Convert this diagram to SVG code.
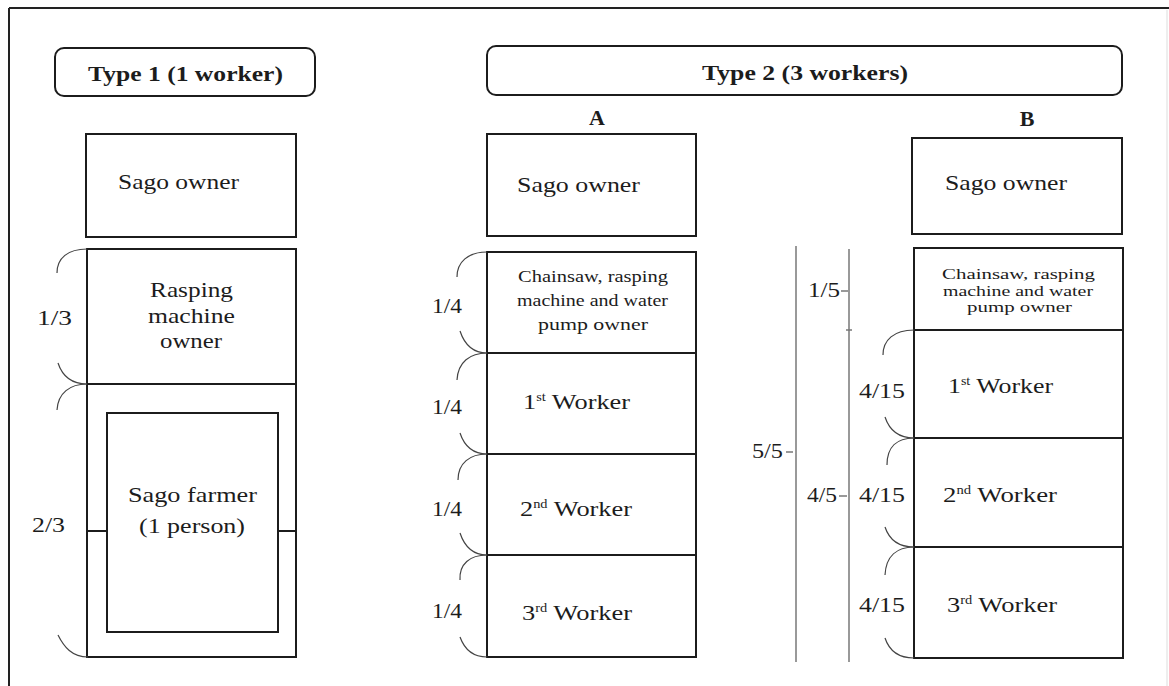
<svg xmlns="http://www.w3.org/2000/svg" width="1169" height="686" viewBox="0 0 1169 686">
<style>
.bx{fill:none;stroke:#1c1c1c;stroke-width:2}
.hd{fill:#fff;stroke:#1c1c1c;stroke-width:2}
.t{font-family:"Liberation Serif","Times New Roman",serif;font-size:22px;fill:#1c1c1c}
.b{font-weight:bold}
.s{font-size:17px}
.xs{font-size:15px}
.c{fill:none;stroke:#444;stroke-width:1.2}
.v{fill:none;stroke:#777;stroke-width:1.5}
</style>
<rect width="1169" height="686" fill="#fff"/>
<g id="frame">
<line x1="9" y1="8" x2="1169" y2="8" stroke="#222" stroke-width="2"/>
<line x1="9" y1="8" x2="9" y2="686" stroke="#222" stroke-width="2"/>
<line x1="1167" y1="10" x2="1167" y2="686" stroke="#ddd" stroke-width="1"/>
</g>
<g id="type1-header"><rect class="hd" x="55" y="48" width="260" height="48" rx="9"/><text class="t b" x="88" y="81" font-size="20" textLength="195" lengthAdjust="spacingAndGlyphs">Type 1 (1 worker)</text></g>
<g id="type2-header"><rect class="hd" x="487" y="46" width="635" height="49" rx="9"/><text class="t b" x="702" y="80" font-size="20" textLength="206" lengthAdjust="spacingAndGlyphs">Type 2 (3 workers)</text></g>
<g id="label-A"><text class="t b" x="597" y="125" text-anchor="middle" font-size="19">A</text></g>
<g id="label-B"><text class="t b" x="1027" y="126" text-anchor="middle" font-size="19">B</text></g>

<g id="t1-sago-owner"><rect class="bx" x="86" y="134" width="210" height="103"/><text class="t" x="118" y="189" textLength="121" lengthAdjust="spacingAndGlyphs">Sago owner</text></g>
<g id="t1-rasping"><rect class="bx" x="87" y="249" width="209" height="135"/>
<text class="t" x="150" y="297" textLength="83" lengthAdjust="spacingAndGlyphs">Rasping</text>
<text class="t" x="148" y="323" textLength="87" lengthAdjust="spacingAndGlyphs">machine</text>
<text class="t" x="160" y="348" textLength="62" lengthAdjust="spacingAndGlyphs">owner</text></g>
<g id="t1-farmer-outer"><rect class="bx" x="87" y="384" width="209" height="273"/>
<line class="bx" x1="87" y1="531" x2="107" y2="531"/><line class="bx" x1="278" y1="531" x2="296" y2="531"/></g>
<g id="t1-farmer"><rect class="bx" x="107" y="413" width="171" height="219"/>
<text class="t" x="128" y="502" textLength="129" lengthAdjust="spacingAndGlyphs">Sago farmer</text>
<text class="t" x="139" y="533" textLength="106" lengthAdjust="spacingAndGlyphs">(1 person)</text></g>

<g id="a-sago-owner"><rect class="bx" x="487" y="134" width="209" height="102"/><text class="t" x="517" y="192" textLength="123" lengthAdjust="spacingAndGlyphs">Sago owner</text></g>
<g id="a-chainsaw"><rect class="bx" x="487" y="252" width="209" height="101"/>
<text class="t s" x="518" y="282" textLength="150" lengthAdjust="spacingAndGlyphs">Chainsaw, rasping</text>
<text class="t s" x="517" y="306" textLength="151" lengthAdjust="spacingAndGlyphs">machine and water</text>
<text class="t s" x="538" y="330" textLength="110" lengthAdjust="spacingAndGlyphs">pump owner</text></g>
<g id="a-w1"><rect class="bx" x="487" y="353" width="209" height="101"/><text class="t" x="523" y="409" textLength="107" lengthAdjust="spacingAndGlyphs">1<tspan font-size="12" dy="-8">st</tspan><tspan dy="8"> Worker</tspan></text></g>
<g id="a-w2"><rect class="bx" x="487" y="454" width="209" height="101"/><text class="t" x="520" y="516" textLength="112" lengthAdjust="spacingAndGlyphs">2<tspan font-size="12" dy="-8">nd</tspan><tspan dy="8"> Worker</tspan></text></g>
<g id="a-w3"><rect class="bx" x="487" y="555" width="209" height="102"/><text class="t" x="522" y="620" textLength="110" lengthAdjust="spacingAndGlyphs">3<tspan font-size="12" dy="-8">rd</tspan><tspan dy="8"> Worker</tspan></text></g>

<g id="b-sago-owner"><rect class="bx" x="912" y="138" width="210" height="96"/><text class="t" x="945" y="190" textLength="122" lengthAdjust="spacingAndGlyphs">Sago owner</text></g>
<g id="b-chainsaw"><rect class="bx" x="914" y="248" width="209" height="82"/>
<text class="t xs" x="942" y="279" textLength="153" lengthAdjust="spacingAndGlyphs">Chainsaw,  rasping</text>
<text class="t xs" x="943" y="296" textLength="150" lengthAdjust="spacingAndGlyphs">machine and water</text>
<text class="t xs" x="967" y="312" textLength="105" lengthAdjust="spacingAndGlyphs">pump owner</text></g>
<g id="b-w1"><rect class="bx" x="914" y="330" width="209" height="108"/><text class="t" x="948" y="393" textLength="105" lengthAdjust="spacingAndGlyphs">1<tspan font-size="12" dy="-8">st</tspan><tspan dy="8"> Worker</tspan></text></g>
<g id="b-w2"><rect class="bx" x="914" y="438" width="209" height="109"/><text class="t" x="943" y="502" textLength="114" lengthAdjust="spacingAndGlyphs">2<tspan font-size="12" dy="-8">nd</tspan><tspan dy="8"> Worker</tspan></text></g>
<g id="b-w3"><rect class="bx" x="914" y="547" width="209" height="111"/><text class="t" x="947" y="612" textLength="110" lengthAdjust="spacingAndGlyphs">3<tspan font-size="12" dy="-8">rd</tspan><tspan dy="8"> Worker</tspan></text></g>

<g id="connectors">
<path class="c" d="M57,273 C57,258 68,249 87,249"/>
<path class="c" d="M58,363 C62,375 70,384 87,384"/>
<path class="c" d="M87,384 C70,384 58,393 57,410"/>
<path class="c" d="M58,635 C64,647 72,657 88,657"/>
<path class="c" d="M457,277 C457,262 468,252 487,252"/>
<path class="c" d="M460,331 C464,343 472,353 487,353"/>
<path class="c" d="M487,353 C470,353 458,362 457,380"/>
<path class="c" d="M460,433 C464,445 472,454 487,454"/>
<path class="c" d="M487,454 C470,454 458,463 458,480"/>
<path class="c" d="M460,533 C464,545 472,555 487,555"/>
<path class="c" d="M487,555 C470,555 459,564 460,580"/>
<path class="c" d="M460,637 C464,648 472,657 487,657"/>
<path class="c" d="M883,355 C883,340 894,330 914,330"/>
<path class="c" d="M885,417 C889,429 897,438 914,438"/>
<path class="c" d="M914,438 C897,438 887,447 887,465"/>
<path class="c" d="M885,527 C889,539 897,547 914,547"/>
<path class="c" d="M914,547 C897,547 886,556 885,575"/>
<path class="c" d="M885,638 C889,650 897,658 914,658"/>
<line class="v" x1="796" y1="246" x2="796" y2="662"/>
<line class="v" x1="849" y1="249" x2="849" y2="662"/>
<line class="v" x1="846" y1="330" x2="852" y2="330"/>
<line class="v" x1="841" y1="291" x2="848" y2="291"/>
<line class="v" x1="786" y1="452" x2="793" y2="452"/>
<line class="v" x1="839" y1="496" x2="847" y2="496"/>
</g>
<g id="fractions">
<text class="t" x="37" y="325" textLength="35" lengthAdjust="spacingAndGlyphs">1/3</text>
<text class="t" x="32" y="532" textLength="33" lengthAdjust="spacingAndGlyphs">2/3</text>
<text class="t" x="432" y="313" textLength="30" lengthAdjust="spacingAndGlyphs">1/4</text>
<text class="t" x="432" y="414" textLength="30" lengthAdjust="spacingAndGlyphs">1/4</text>
<text class="t" x="432" y="516" textLength="30" lengthAdjust="spacingAndGlyphs">1/4</text>
<text class="t" x="432" y="618" textLength="30" lengthAdjust="spacingAndGlyphs">1/4</text>
<text class="t" x="808" y="297" textLength="32" lengthAdjust="spacingAndGlyphs">1/5</text>
<text class="t" x="752" y="458" textLength="31" lengthAdjust="spacingAndGlyphs">5/5</text>
<text class="t" x="807" y="502" textLength="30" lengthAdjust="spacingAndGlyphs">4/5</text>
<text class="t" x="859" y="398" textLength="46" lengthAdjust="spacingAndGlyphs">4/15</text>
<text class="t" x="859" y="502" textLength="46" lengthAdjust="spacingAndGlyphs">4/15</text>
<text class="t" x="859" y="612" textLength="46" lengthAdjust="spacingAndGlyphs">4/15</text>
</g>
</svg>
